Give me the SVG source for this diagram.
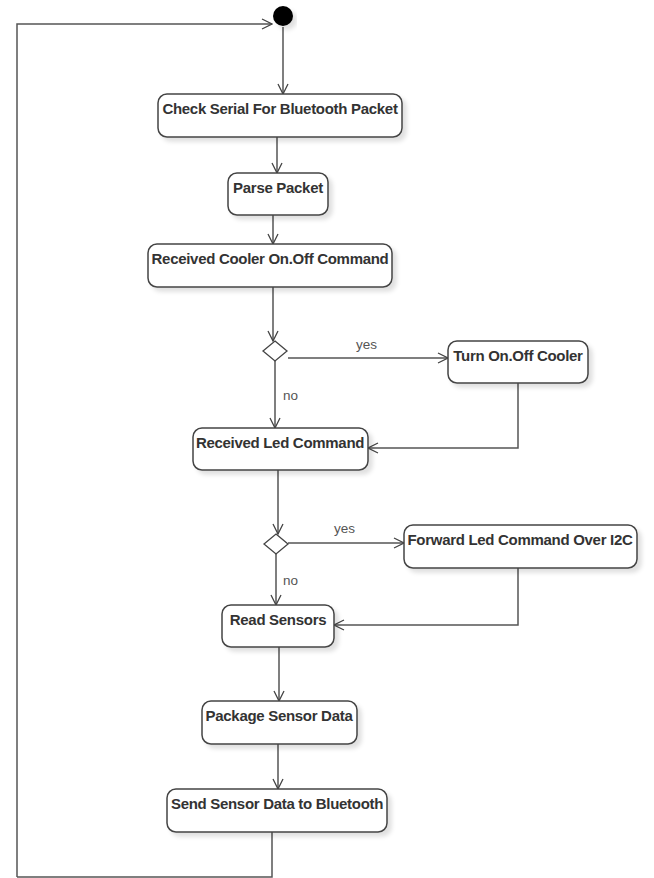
<svg xmlns="http://www.w3.org/2000/svg" width="654" height="878" viewBox="0 0 654 878">
<defs>
<filter id="sh" x="-10%" y="-20%" width="130%" height="160%">
<feDropShadow dx="4" dy="4" stdDeviation="2" flood-color="#000" flood-opacity="0.12"/>
</filter>
<marker id="arr" markerWidth="12" markerHeight="12" refX="11" refY="6" orient="auto" markerUnits="userSpaceOnUse">
<path d="M1,1 L11,6 L1,11" fill="none" stroke="#444" stroke-width="1.3"/>
</marker>
<style>
.node{fill:#fff;stroke:#444;stroke-width:1.5;filter:url(#sh)}
.lbl{font-family:"Liberation Sans",Arial,sans-serif;font-weight:bold;font-size:15px;letter-spacing:-0.3px;fill:#333;text-anchor:middle}
.edge{fill:none;stroke:#555;stroke-width:1.5;marker-end:url(#arr)}
.plain{fill:none;stroke:#555;stroke-width:1.5}
.guard{font-family:"Liberation Sans",Arial,sans-serif;font-size:13.5px;fill:#555}
.dia{fill:#fff;stroke:#444;stroke-width:1.3}
</style>
</defs>
<rect width="654" height="878" fill="#fff"/>
<g id="connectors">
<path class="edge" d="M17,877 L17,24 L272,24"/>
<path class="plain" d="M272,832 L272,877 L17,877"/>
<path class="edge" d="M283,27 L283,94"/>
<path class="edge" d="M277,137 L277,173"/>
<path class="edge" d="M273,215 L273,244"/>
<path class="edge" d="M273,287 L273,341"/>
<path class="edge" d="M288,358 L448,358"/>
<path class="edge" d="M275,361 L275,428"/>
<path class="edge" d="M518,383 L518,448 L368,448"/>
<path class="edge" d="M278,470 L278,534"/>
<path class="edge" d="M288,543 L404,543"/>
<path class="edge" d="M276,553 L276,605"/>
<path class="edge" d="M518,568 L518,625 L334,625"/>
<path class="edge" d="M279,647 L279,701"/>
<path class="edge" d="M278,744 L278,789"/>
<text class="guard" x="356" y="349">yes</text>
<text class="guard" x="283" y="400">no</text>
<text class="guard" x="334" y="533">yes</text>
<text class="guard" x="283" y="585">no</text>
</g>
<g id="start"><circle cx="283" cy="16" r="10" fill="#000" filter="url(#sh)"/></g>
<g id="n-check"><rect class="node" x="158" y="94" width="244" height="43" rx="9"/><text class="lbl" x="280" y="114">Check Serial For Bluetooth Packet</text></g>
<g id="n-parse"><rect class="node" x="228" y="173" width="100" height="42" rx="9"/><text class="lbl" x="278" y="193">Parse Packet</text></g>
<g id="n-cooler-cmd"><rect class="node" x="148" y="244" width="244" height="43" rx="9"/><text class="lbl" x="270" y="264">Received Cooler On.Off Command</text></g>
<g id="d1"><polygon class="dia" points="275,341 287,351 275,361 263,351"/></g>
<g id="n-turn"><rect class="node" x="448" y="341" width="140" height="42" rx="9"/><text class="lbl" x="518" y="361">Turn On.Off Cooler</text></g>
<g id="n-led-cmd"><rect class="node" x="193" y="428" width="175" height="42" rx="9"/><text class="lbl" x="280" y="448">Received Led Command</text></g>
<g id="d2"><polygon class="dia" points="276,534 288,544 276,554 264,544"/></g>
<g id="n-forward"><rect class="node" x="404" y="525" width="233" height="43" rx="9"/><text class="lbl" x="520" y="545">Forward Led Command Over I2C</text></g>
<g id="n-read"><rect class="node" x="222" y="605" width="112" height="42" rx="9"/><text class="lbl" x="278" y="625">Read Sensors</text></g>
<g id="n-package"><rect class="node" x="202" y="701" width="155" height="43" rx="9"/><text class="lbl" x="279" y="721">Package Sensor Data</text></g>
<g id="n-send"><rect class="node" x="167" y="789" width="220" height="43" rx="9"/><text class="lbl" x="277" y="809">Send Sensor Data to Bluetooth</text></g>
</svg>
